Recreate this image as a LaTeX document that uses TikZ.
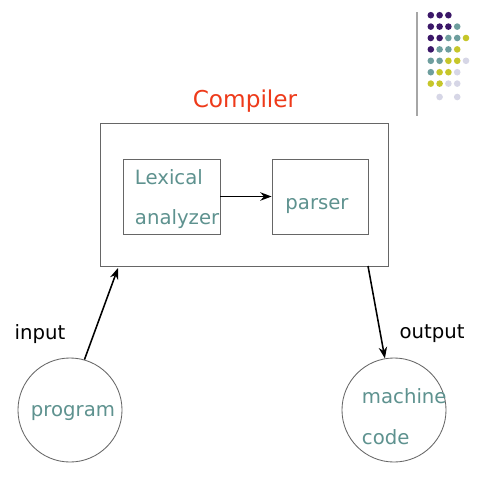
\documentclass[tikz,border=0pt]{standalone}
\usepackage{fontspec}
\setmainfont{DejaVu Sans}
\usetikzlibrary{arrows.meta}
\definecolor{tealtxt}{HTML}{5E928F}
\definecolor{redtxt}{HTML}{EE3A1A}
\definecolor{dotP}{HTML}{3B1768}
\definecolor{dotT}{HTML}{6E9E9E}
\definecolor{dotY}{HTML}{C6C62A}
\definecolor{dotL}{HTML}{D6D6E6}
\tikzset{
	boxline/.style={draw=black!60, line width=0.6pt},
	flow/.style={-{Stealth[length=8pt,width=6pt]}, line width=1.1pt},
	tealtext/.style={text=tealtxt, font=\fontsize{14}{17}\selectfont},
	blacktext/.style={font=\fontsize{14}{17}\selectfont}
}

\begin{document}
\begin{tikzpicture}[x=0.025cm, y=-0.025cm]
		%%%%% START %%%%%
		
		\useasboundingbox[fill=white] (0, 0) rectangle (480, 480);
		
		% corner decoration
		\draw[line width=1.2pt, color=black!35] (417, 12) -- (417, 116);
		\foreach \row [count=\j] in {{dotP,dotP,dotP}, {dotP,dotP,dotP,dotT}, {dotP,dotP,dotT,dotT,dotY}, {dotP,dotT,dotT,dotY}, {dotT,dotT,dotY,dotY,dotL}, {dotT,dotY,dotY,dotL}, {dotY,dotY,dotL,dotL}}
			\foreach \c [count=\i] in \row
				\fill[\c] ({422 + 8.8*\i}, {3.8 + 11.4*\j}) circle (3.3);
		\fill[dotL] (439.6, 97) circle (3.3);
		\fill[dotL] (457.2, 97) circle (3.3);
		
		% compiler
		\node[text=redtxt, font=\fontsize{16.5}{20}\selectfont] (title) at (245, 101) {Compiler};
		\draw[boxline] (100, 123) rectangle (388, 266);
		\coordinate (inTip) at (118, 268);
		\coordinate (outTail) at (368, 266);
		
		\node[boxline, minimum width=2.425cm, minimum height=1.875cm] (lex) at (171.5, 196.5) {};
		\node[tealtext, anchor=base west] (lexA) at (130, 184) {Lexical};
		\node[tealtext, anchor=base west] (lexB) at (130, 224) {analyzer};
		\node[boxline, minimum width=2.4cm, minimum height=1.875cm] (parser) at (320, 196.5) {};
		\node[tealtext] (parserT) at (317, 206) {parser};
		\draw[flow] (lex.east) -- (parser.west);
		
		% program and machine code
		\node[boxline, circle, minimum size=2.6cm] (prog) at (70, 410) {};
		\node[tealtext] (progT) at (73, 413) {program};
		\node[boxline, circle, minimum size=2.6cm] (mcode) at (394, 410) {};
		\node[tealtext, anchor=base west] (mcodeA) at (357, 403) {machine};
		\node[tealtext, anchor=base west] (mcodeB) at (357, 444) {code};
		
		\node[blacktext] (input) at (40, 334) {input};
		\node[blacktext] (output) at (432, 334) {output};
		
		\draw[flow] (prog.74) -- (inTip);
		\draw[flow] (outTail) -- (mcode.100);
		
		%%%%% END %%%%%
	\end{tikzpicture}
\end{document}
